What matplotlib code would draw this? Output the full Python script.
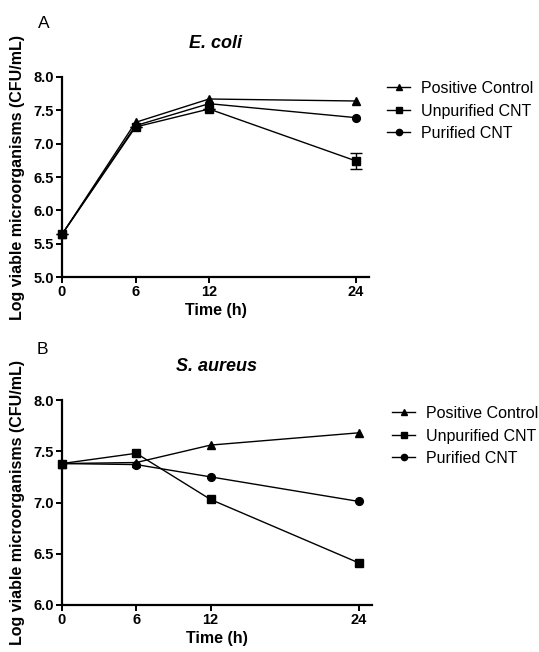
import matplotlib
matplotlib.use("Agg")
import matplotlib.pyplot as plt
from matplotlib.lines import Line2D

plt.rcParams['font.family'] = ['Liberation Sans', 'DejaVu Sans']

time_h = [0, 6, 12, 24]
x_ticks = [0, 6, 12, 24]
series_names = ["Positive Control", "Unpurified CNT", "Purified CNT"]

ecoli_positive = [5.64, 7.32, 7.67, 7.64]
ecoli_unpurified = [5.64, 7.25, 7.52, 6.74]
ecoli_unpurified_err = [0, 0, 0, 0.12]
ecoli_purified = [5.64, 7.27, 7.60, 7.39]

saureus_positive = [7.38, 7.39, 7.56, 7.68]
saureus_unpurified = [7.38, 7.48, 7.03, 6.41]
saureus_purified = [7.38, 7.37, 7.25, 7.01]

ecoli_yticks = [5.0, 5.5, 6.0, 6.5, 7.0, 7.5, 8.0]
saureus_yticks = [6.0, 6.5, 7.0, 7.5, 8.0]

W, H = 539, 652
fig = plt.figure(figsize=(W / 100, H / 100), dpi=100)

def ax_rect(l, t, r, b):
    return [l / W, 1 - b / H, (r - l) / W, (b - t) / H]

axA = fig.add_axes(ax_rect(62, 77, 369, 277))
axB = fig.add_axes(ax_rect(62, 400, 372, 605))

markers = ['^', 's', 'o']
msizes = [6.3, 5.8, 5.6]
lw = 1.0


def style(ax, yticks, ylim, title):
    ax.set_xlim(0, 25.05)
    ax.set_ylim(*ylim)
    ax.set_xticks(x_ticks)
    ax.set_yticks(yticks)
    ax.set_yticklabels([f"{v:.1f}" for v in yticks])
    for s in ['top', 'right']:
        ax.spines[s].set_visible(False)
    for s in ['left', 'bottom']:
        ax.spines[s].set_linewidth(1.6)
    ax.tick_params(axis='both', direction='out', length=4, width=1.4,
                   labelsize=10.5, pad=2)
    for lab in ax.get_xticklabels() + ax.get_yticklabels():
        lab.set_fontweight('bold')
    ax.set_xlabel("Time (h)", fontsize=11.5, fontweight='bold', labelpad=3)
    ax.set_ylabel("Log viable microorganisms (CFU/mL)", fontsize=11.5,
                  fontweight='bold', labelpad=6)
    ax.set_title(title, fontsize=13, fontweight='bold', style='italic', pad=21)


def add_legend(ax, x_px, top_px):
    handles = [Line2D([], [], color='black', lw=lw, marker=m, markersize=4.5)
               for m in markers]
    fig.legend(handles, series_names, loc='upper left',
               bbox_to_anchor=(x_px / W, 1 - top_px / H),
               bbox_transform=fig.transFigure, frameon=False, fontsize=11.5,
               handlelength=1.45, handletextpad=0.65, labelspacing=0.47,
               borderpad=0, borderaxespad=0)


# Panel A
axA.plot(time_h, ecoli_positive, marker=markers[0], ms=msizes[0],
         color='black', lw=lw, clip_on=False, zorder=3)
axA.errorbar(time_h, ecoli_unpurified, yerr=ecoli_unpurified_err,
             marker=markers[1], ms=msizes[1], color='black', lw=lw,
             capsize=4, elinewidth=1.0, clip_on=False, zorder=3)
axA.plot(time_h, ecoli_purified, marker=markers[2], ms=msizes[2],
         color='black', lw=lw, clip_on=False, zorder=3)
style(axA, ecoli_yticks, (5.0, 8.0), "E. coli")
add_legend(axA, 387, 81)

# Panel B
axB.plot(time_h, saureus_positive, marker=markers[0], ms=msizes[0],
         color='black', lw=lw, clip_on=False, zorder=3)
axB.plot(time_h, saureus_unpurified, marker=markers[1], ms=msizes[1],
         color='black', lw=lw, clip_on=False, zorder=3)
axB.plot(time_h, saureus_purified, marker=markers[2], ms=msizes[2],
         color='black', lw=lw, clip_on=False, zorder=3)
style(axB, saureus_yticks, (6.0, 8.0), "S. aureus")
add_legend(axB, 392, 406)

fig.text(38 / W, 1 - 23 / H, "A", fontsize=12.5, va='center', ha='left')
fig.text(37 / W, 1 - 350 / H, "B", fontsize=12.5, va='center', ha='left')

fig.savefig("out.png", dpi=100)
